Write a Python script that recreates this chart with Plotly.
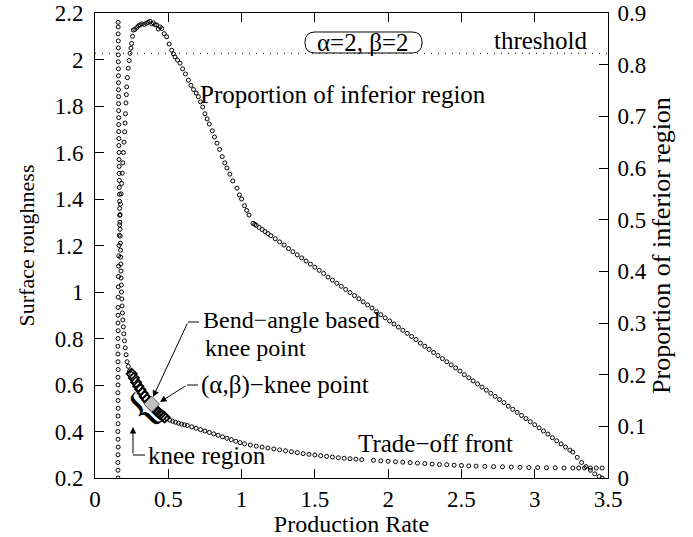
import plotly.graph_objects as go

# ---------------- data ----------------
front_rate = [0.158, 0.158, 0.158, 0.159, 0.159, 0.159, 0.159, 0.160, 0.160, 0.160,
              0.160, 0.161, 0.161, 0.161, 0.162, 0.162, 0.162, 0.163, 0.163, 0.164,
              0.164, 0.165, 0.165, 0.166, 0.166, 0.167, 0.168, 0.168, 0.169, 0.170,
              0.171, 0.172, 0.173, 0.174, 0.175, 0.176, 0.177, 0.178, 0.180, 0.181,
              0.183, 0.185, 0.187, 0.190, 0.193, 0.197, 0.201, 0.206, 0.212, 0.219,
              0.227, 0.236, 0.245,
              0.49, 0.51, 0.53, 0.55, 0.57, 0.59, 0.61, 0.63, 0.66, 0.69,
              0.72, 0.75, 0.78, 0.81, 0.84, 0.87, 0.90, 0.93, 0.96, 0.99,
              1.02, 1.06, 1.10, 1.14, 1.18, 1.22, 1.26, 1.30, 1.34, 1.38,
              1.42, 1.46, 1.50, 1.54, 1.58, 1.62, 1.66, 1.70, 1.74, 1.78,
              1.82, 1.90, 1.95, 2.00, 2.05, 2.10, 2.15, 2.20, 2.25, 2.30,
              2.35, 2.40, 2.45, 2.50, 2.55, 2.60, 2.66, 2.72, 2.78, 2.84,
              2.90, 2.96, 3.02, 3.08, 3.14, 3.20, 3.26, 3.30, 3.34, 3.38,
              3.42, 3.46]
front_roughness = [2.16, 2.14, 2.11, 2.08, 2.05, 2.02, 1.99, 1.96, 1.93, 1.90,
                   1.87, 1.84, 1.81, 1.78, 1.75, 1.72, 1.69, 1.66, 1.63, 1.60,
                   1.57, 1.54, 1.51, 1.48, 1.45, 1.42, 1.39, 1.36, 1.33, 1.30,
                   1.27, 1.24, 1.21, 1.18, 1.15, 1.12, 1.09, 1.06, 1.03, 1.00,
                   0.97, 0.94, 0.91, 0.88, 0.85, 0.82, 0.79, 0.76, 0.73, 0.70,
                   0.68, 0.66, 0.65,
                   0.455, 0.449, 0.444, 0.440, 0.436, 0.432, 0.429, 0.426, 0.420, 0.414,
                   0.408, 0.402, 0.396, 0.390, 0.384, 0.377, 0.371, 0.365, 0.358, 0.352,
                   0.347, 0.342, 0.337, 0.333, 0.329, 0.325, 0.321, 0.317, 0.313, 0.309,
                   0.305, 0.302, 0.299, 0.296, 0.293, 0.290, 0.287, 0.285, 0.283, 0.281,
                   0.279, 0.276, 0.274, 0.272, 0.270, 0.268, 0.266, 0.264, 0.262, 0.260,
                   0.258, 0.257, 0.255, 0.254, 0.252, 0.251, 0.250, 0.249, 0.248, 0.247,
                   0.246, 0.245, 0.245, 0.244, 0.244, 0.243, 0.243, 0.243, 0.243, 0.243,
                   0.243, 0.243]

knee_rate = [0.25, 0.265, 0.28, 0.295, 0.31, 0.325, 0.34, 0.355, 0.37, 0.385,
             0.40, 0.415, 0.43, 0.445, 0.46, 0.475]
knee_roughness = [0.648, 0.630, 0.612, 0.595, 0.580, 0.565, 0.550, 0.537, 0.525, 0.513,
                  0.502, 0.492, 0.483, 0.475, 0.468, 0.461]

knee_point_rate = [0.387]
knee_point_roughness = [0.518]

prop_rate = [0.157, 0.157, 0.156, 0.157, 0.158, 0.157, 0.156, 0.157, 0.157, 0.158,
             0.157, 0.156, 0.157, 0.157, 0.158, 0.157, 0.157, 0.156, 0.157, 0.158,
             0.157, 0.157, 0.157,
             0.158, 0.159, 0.160, 0.161, 0.162, 0.164, 0.166, 0.168, 0.171, 0.174,
             0.178, 0.182, 0.186, 0.190, 0.194, 0.198, 0.202, 0.205, 0.208, 0.211,
             0.214, 0.216, 0.221, 0.227, 0.233, 0.239, 0.245, 0.250, 0.256, 0.261,
             0.272, 0.285, 0.297, 0.307, 0.320, 0.335, 0.350, 0.362, 0.375, 0.387,
             0.398, 0.410, 0.421, 0.432, 0.444, 0.455, 0.472, 0.489, 0.506, 0.523,
             0.535, 0.546, 0.563, 0.580, 0.598, 0.617, 0.637, 0.655, 0.672, 0.690,
             0.705, 0.720, 0.735, 0.750, 0.765, 0.780, 0.800, 0.815, 0.832, 0.850,
             0.868, 0.885, 0.900, 0.920, 0.940, 0.969, 0.985, 1.000, 1.020, 1.035,
             1.051,
             1.078, 1.09, 1.10, 1.12, 1.14, 1.16, 1.18, 1.20, 1.23, 1.26,
             1.29, 1.32, 1.35, 1.38, 1.41, 1.44, 1.47, 1.50, 1.53, 1.56,
             1.59, 1.62, 1.65, 1.68, 1.71, 1.74, 1.77, 1.80, 1.83, 1.86,
             1.89, 1.92, 1.95, 1.98, 2.01, 2.04, 2.07, 2.10, 2.13, 2.16,
             2.19, 2.22, 2.25, 2.28, 2.31, 2.34, 2.37, 2.40, 2.43, 2.46,
             2.49, 2.52, 2.55, 2.58, 2.61, 2.64, 2.67, 2.70, 2.73, 2.76,
             2.79, 2.82, 2.85, 2.88, 2.91, 2.94, 2.97, 3.00, 3.03, 3.06,
             3.09, 3.12, 3.15, 3.18, 3.21, 3.24, 3.26, 3.29, 3.32, 3.35,
             3.38, 3.41, 3.44, 3.46]
prop_value = [0.000, 0.015, 0.030, 0.045, 0.060, 0.075, 0.090, 0.105, 0.120, 0.135,
              0.150, 0.165, 0.180, 0.195, 0.210, 0.225, 0.240, 0.255, 0.270, 0.285,
              0.300, 0.315, 0.330,
              0.350, 0.370, 0.390, 0.410, 0.430, 0.450, 0.470, 0.490, 0.510, 0.530,
              0.550, 0.570, 0.590, 0.610, 0.630, 0.650, 0.670, 0.687, 0.705, 0.726,
              0.742, 0.757, 0.775, 0.793, 0.808, 0.822, 0.832, 0.841, 0.855, 0.867,
              0.868, 0.872, 0.875, 0.877, 0.879, 0.878, 0.880, 0.882, 0.884, 0.879,
              0.881, 0.877, 0.877, 0.869, 0.873, 0.870, 0.860, 0.854, 0.840, 0.828,
              0.821, 0.815, 0.809, 0.803, 0.792, 0.782, 0.770, 0.760, 0.752, 0.745,
              0.738, 0.728, 0.718, 0.705, 0.695, 0.685, 0.672, 0.660, 0.648, 0.636,
              0.622, 0.610, 0.600, 0.588, 0.575, 0.561, 0.548, 0.540, 0.527, 0.518,
              0.509,
              0.493, 0.491, 0.489, 0.485, 0.481, 0.477, 0.473, 0.469, 0.463, 0.457,
              0.451, 0.444, 0.438, 0.432, 0.426, 0.420, 0.414, 0.408, 0.402, 0.396,
              0.389, 0.383, 0.377, 0.371, 0.365, 0.359, 0.353, 0.347, 0.341, 0.335,
              0.329, 0.322, 0.316, 0.310, 0.304, 0.298, 0.292, 0.286, 0.280, 0.274,
              0.268, 0.261, 0.255, 0.249, 0.243, 0.237, 0.231, 0.225, 0.219, 0.213,
              0.207, 0.200, 0.194, 0.188, 0.182, 0.176, 0.170, 0.164, 0.158, 0.152,
              0.146, 0.139, 0.133, 0.127, 0.121, 0.115, 0.109, 0.103, 0.097, 0.091,
              0.085, 0.078, 0.072, 0.066, 0.060, 0.054, 0.050, 0.040, 0.030, 0.022,
              0.015, 0.008, 0.003, 0.000]

threshold = 0.822

x_ticks = [0, 0.5, 1, 1.5, 2, 2.5, 3, 3.5]
x_tick_labels = ["0", "0.5", "1", "1.5", "2", "2.5", "3", "3.5"]
y_ticks = [0.2, 0.4, 0.6, 0.8, 1.0, 1.2, 1.4, 1.6, 1.8, 2.0, 2.2]
y_tick_labels = ["0.2", "0.4", "0.6", "0.8", "1", "1.2", "1.4", "1.6", "1.8", "2", "2.2"]
y2_ticks = [0, 0.1, 0.2, 0.3, 0.4, 0.5, 0.6, 0.7, 0.8, 0.9]
y2_tick_labels = ["0", "0.1", "0.2", "0.3", "0.4", "0.5", "0.6", "0.7", "0.8", "0.9"]

# ---------------- layout geometry ----------------
FONT = "Liberation Serif, Times New Roman, serif"
W, H = 693, 537
ML, MR, MT, MB = 95, 85, 13, 59
PW, PH = W - ML - MR, H - MT - MB


def paper(px, py):
    return (px - ML) / PW, (H - MB - py) / PH


fig = go.Figure()

marker_open = dict(symbol="circle-open", size=4, color="black", line=dict(width=1, color="black"))

fig.add_trace(go.Scatter(x=prop_rate, y=prop_value, mode="markers", yaxis="y2",
                         marker=marker_open, name="Proportion of inferior region",
                         showlegend=False))
fig.add_trace(go.Scatter(x=front_rate, y=front_roughness, mode="markers",
                         marker=marker_open, name="Trade-off front", showlegend=False))
fig.add_trace(go.Scatter(x=knee_rate, y=knee_roughness, mode="markers",
                         marker=dict(symbol="diamond-open", size=8, color="black",
                                     line=dict(width=1.6, color="black")),
                         name="knee region", showlegend=False))
fig.add_trace(go.Scatter(x=knee_point_rate, y=knee_point_roughness, mode="markers",
                         marker=dict(symbol="diamond", size=12, color="#c0c0c0",
                                     line=dict(width=1, color="#606060")),
                         name="knee point", showlegend=False))

shapes = []
# threshold dotted line
shapes.append(dict(type="line", xref="paper", x0=0, x1=1, yref="y2", y0=threshold, y1=threshold,
                   line=dict(color="black", width=1, dash="1px,6px"), layer="above"))

# rounded box for alpha/beta label
bx0, bx1, by0, by1, r = 305, 422, 32, 53, 10


def P(px, py):
    x, y = paper(px, py)
    return f"{x:.5f},{y:.5f}"


path = (f"M {P(bx0 + r, by0)} L {P(bx1 - r, by0)} Q {P(bx1, by0)} {P(bx1, by0 + r)} "
        f"L {P(bx1, by1 - r)} Q {P(bx1, by1)} {P(bx1 - r, by1)} "
        f"L {P(bx0 + r, by1)} Q {P(bx0, by1)} {P(bx0, by1 - r)} "
        f"L {P(bx0, by0 + r)} Q {P(bx0, by0)} {P(bx0 + r, by0)} Z")
shapes.append(dict(type="path", xref="paper", yref="paper", path=path,
                   fillcolor="white", line=dict(color="black", width=1), layer="above"))


def hseg(px0, px1, py):
    x0, y0 = paper(px0, py)
    x1, _ = paper(px1, py)
    return dict(type="line", xref="paper", yref="paper", x0=x0, x1=x1, y0=y0, y1=y0,
                line=dict(color="black", width=1), layer="above")


shapes.append(hseg(188, 199, 322))   # bend-angle leader
shapes.append(hseg(187, 198, 385))   # (alpha,beta) leader
shapes.append(hseg(133, 145, 455))   # knee region leader

annotations = []


def text(px, py, s, size=25, xanchor="center", yanchor="middle", angle=0):
    x, y = paper(px, py)
    annotations.append(dict(xref="paper", yref="paper", x=x, y=y, text=s, showarrow=False,
                            xanchor=xanchor, yanchor=yanchor, textangle=angle,
                            font=dict(family=FONT, size=size, color="black")))


def arrow(tip_px, tip_py, tail_px, tail_py):
    x, y = paper(tip_px, tip_py)
    annotations.append(dict(xref="paper", yref="paper", x=x, y=y, text="", showarrow=True,
                            ax=tail_px - tip_px, ay=tail_py - tip_py, axref="pixel", ayref="pixel",
                            arrowhead=2, arrowsize=1.3, arrowwidth=1, arrowcolor="black",
                            standoff=0, startstandoff=0))


text(363, 42, "α=2, β=2")
text(541, 40, "threshold")
text(198, 94, "Proportion of inferior region", xanchor="left")
text(435, 443, "Trade−off front")
text(201, 320, "Bend−angle based", size=24, xanchor="left")
text(203, 348, "knee point", size=24, xanchor="left")
text(199, 385, "(α,β)−knee point", xanchor="left")
text(146, 455, "knee region", xanchor="left")
text(141, 409, "{", size=48, angle=-45)

arrow(153, 397, 188, 322)
arrow(160, 402, 187, 385)
arrow(133, 427, 133, 455)

tickfont = dict(family=FONT, size=23, color="black")
axis_common = dict(showline=True, linecolor="black", linewidth=1, ticks="inside", ticklen=9,
                   tickwidth=1, tickcolor="black", showgrid=False, zeroline=False,
                   tickfont=tickfont)

fig.update_layout(
    width=W, height=H,
    margin=dict(l=ML, r=MR, t=MT, b=MB, autoexpand=False),
    paper_bgcolor="white", plot_bgcolor="white",
    font=dict(family=FONT, size=24, color="black"),
    xaxis=dict(range=[0, 3.5], tickvals=x_ticks, ticktext=x_tick_labels, mirror="ticks",
               title=dict(text="Production Rate", font=dict(family=FONT, size=24), standoff=3),
               **axis_common),
    yaxis=dict(range=[0.2, 2.2], tickvals=y_ticks, ticktext=y_tick_labels,
               title=dict(text="Surface roughness", font=dict(family=FONT, size=22), standoff=13),
               ticklabelstandoff=6, **axis_common),
    yaxis2=dict(range=[0, 0.9], tickvals=y2_ticks, ticktext=y2_tick_labels, overlaying="y",
                side="right",
                title=dict(text="Proportion of inferior region", font=dict(family=FONT, size=26),
                           standoff=4),
                ticklabelstandoff=4, **axis_common),
    shapes=shapes,
    annotations=annotations,
)

fig.write_html("out.html")
